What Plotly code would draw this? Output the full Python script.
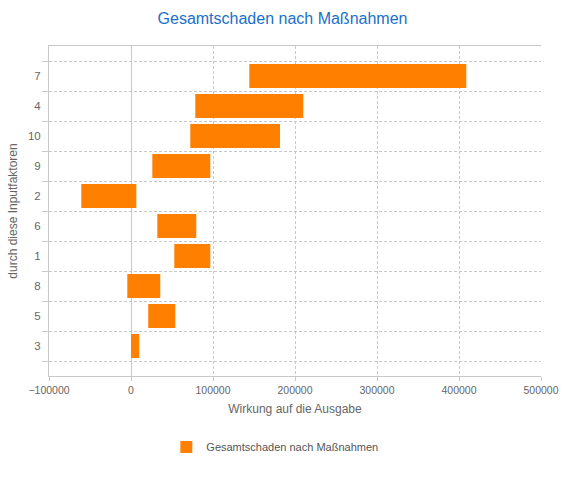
import plotly.graph_objects as go

# Kategorien von unten nach oben
faktoren = ["3", "5", "8", "1", "6", "2", "9", "10", "4", "7"]
start = [0, 21000, -4500, 52800, 32100, -60600, 26000, 72300, 78400, 144300]
ende = [10100, 54000, 35700, 96700, 79600, 6500, 96700, 181700, 210100, 408900]

breite = [e - s for s, e in zip(start, ende)]

fig = go.Figure()
fig.add_trace(go.Bar(
    y=faktoren,
    x=breite,
    base=start,
    orientation="h",
    width=0.8,
    marker=dict(color="#ff8000", line=dict(width=0)),
    name="Gesamtschaden nach Maßnahmen",
    showlegend=True,
))

grau = "#c8c8c8"
fig.update_layout(
    width=565, height=478,
    margin=dict(l=49, r=24, t=46, b=102),
    paper_bgcolor="white", plot_bgcolor="white",
    font=dict(family="Liberation Sans, Arial, sans-serif", size=11, color="#666666"),
    title=dict(text="Gesamtschaden nach Maßnahmen", x=0.5, xanchor="center", y=0.962, yanchor="middle",
               font=dict(size=16, color="#1a6fcc")),
    legend=dict(orientation="h", x=0.459, xanchor="center", y=-0.215, yanchor="middle",
                font=dict(size=11, color="#555555")),
    bargap=0.2,
)
fig.update_xaxes(
    range=[-100000, 500000], dtick=100000, tickformat="d", automargin=False,
    tickfont=dict(size=10.5),
    showgrid=True, gridcolor=grau, griddash="3px,2px", gridwidth=1,
    zeroline=True, zerolinecolor=grau, zerolinewidth=1,
    showline=True, linecolor=grau, linewidth=1, mirror=True,
    ticks="outside", ticklen=4, tickcolor=grau,
    title=dict(text="Wirkung auf die Ausgabe", font=dict(size=12, color="#666666"), standoff=10),
)
fig.update_yaxes(
    type="category", categoryorder="array", categoryarray=faktoren, automargin=False,
    range=[-1, 10], tickson="boundaries", ticklabelstandoff=5,
    tickfont=dict(size=11.5),
    showgrid=True, gridcolor=grau, griddash="3px,2px", gridwidth=1,
    showline=True, linecolor=grau, linewidth=1,
    ticks="outside", ticklen=6, tickcolor=grau,
    title=dict(text="durch diese Inputfaktoren", font=dict(size=12, color="#666666"), standoff=7),
)

# Seitenrand entfernen, damit die Grafik genau ins Fenster passt
fig.write_html("out.html", config={"displayModeBar": False},
               post_script="document.body.style.margin='0';")
